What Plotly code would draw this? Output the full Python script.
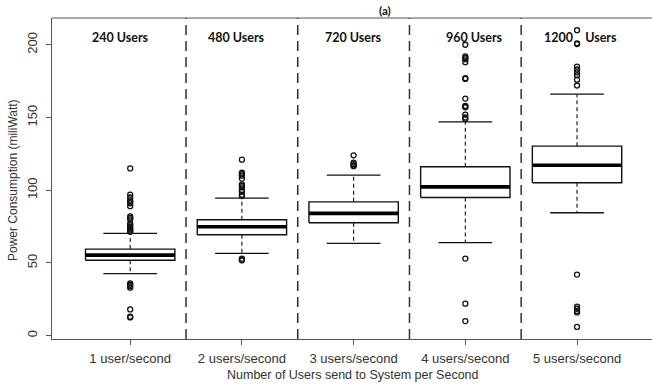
import plotly.graph_objects as go

# ---- data ----
categories = ["1 user/second", "2 users/second", "3 users/second", "4 users/second", "5 users/second"]
group_labels = ["240 Users", "480 Users", "720 Users", "960 Users", "1200\u00a0\u00a0\u00a0 Users"]
q1 = [51.8, 69.4, 77.6, 95.0, 105.1]
median = [55.4, 74.9, 84.1, 102.3, 117.2]
q3 = [59.5, 79.7, 92.0, 116.1, 130.3]
lower_whisker = [42.6, 56.6, 63.5, 63.9, 84.5]
upper_whisker = [70.3, 94.6, 110.4, 147.0, 166.0]
outliers = [
    [115, 97, 95, 93, 92, 91, 89, 82, 81, 80, 77, 76, 75, 74, 73, 72, 71.5, 36, 35, 34, 33, 18, 13, 12.5],
    [121, 112, 111, 110, 108, 104, 103, 102, 100, 99, 97, 96, 53, 52, 51.8],
    [124, 119, 118, 117, 116.5],
    [200, 192, 191, 190, 188, 177, 176.5, 163, 158, 157.5, 157, 152, 150, 149, 53, 22, 10],
    [210, 201, 200.5, 185, 183, 181, 179, 176, 172, 42, 20, 18.5, 17, 16, 6],
]
y_ticks = [0, 50, 100, 150, 200]
separators = [1.5, 2.5, 3.5, 4.5]

positions = list(range(1, len(categories) + 1))
BOX_HALF = 0.4
STAPLE_HALF = 0.24

W, H = 652, 387
ML, MR, MT, MB = 52, 0, 18, 48
PW, PH = W - ML - MR, H - MT - MB

fig = go.Figure()

for i, c in enumerate(positions):
    fig.add_trace(go.Scatter(x=[c, c, None, c, c], y=[q3[i], upper_whisker[i], None, q1[i], lower_whisker[i]],
                             mode="lines", line=dict(color="#111", width=1.1, dash="4px,3px"),
                             hoverinfo="skip", showlegend=False))
    fig.add_trace(go.Scatter(x=[c - STAPLE_HALF, c + STAPLE_HALF, None, c - STAPLE_HALF, c + STAPLE_HALF],
                             y=[upper_whisker[i], upper_whisker[i], None, lower_whisker[i], lower_whisker[i]],
                             mode="lines", line=dict(color="#111", width=1.3),
                             hoverinfo="skip", showlegend=False))
    fig.add_trace(go.Scatter(x=[c - BOX_HALF, c + BOX_HALF, c + BOX_HALF, c - BOX_HALF, c - BOX_HALF],
                             y=[q1[i], q1[i], q3[i], q3[i], q1[i]],
                             mode="lines", fill="toself", fillcolor="white",
                             line=dict(color="#111", width=1.4),
                             hoverinfo="skip", showlegend=False))
    fig.add_trace(go.Scatter(x=[c - BOX_HALF, c + BOX_HALF], y=[median[i], median[i]],
                             mode="lines", line=dict(color="#000", width=3.6),
                             hoverinfo="skip", showlegend=False))
    fig.add_trace(go.Scatter(x=[c] * len(outliers[i]), y=outliers[i], mode="markers",
                             marker=dict(symbol="circle-open", size=5, color="#111", line=dict(width=1.3)),
                             hoverinfo="skip", showlegend=False))

for s in separators:
    fig.add_shape(type="line", x0=s, x1=s, y0=0, y1=1, xref="x", yref="paper",
                  line=dict(color="#333", width=1.5, dash="10px,6px"), layer="below")

fig.add_shape(type="line", x0=0, x1=1, y0=1, y1=1, xref="paper", yref="paper",
              line=dict(color="#555", width=1))

for i, lab in enumerate(group_labels):
    fig.add_annotation(x=positions[i], y=205, xref="x", yref="y", text=f"<b>{lab}</b>",
                       showarrow=False, font=dict(family="Lato", size=12.5, color="#111"),
                       xshift=[-10, -5, 0, 9, 3][i])

def px_x(px):
    return (px - ML) / PW

def px_y(py):
    return (H - MB - py) / PH

fig.add_annotation(x=px_x(385), y=px_y(10), xref="paper", yref="paper", text="<b>(a)</b>",
                   showarrow=False, yanchor="middle",
                   font=dict(family="Lato", size=11.5, color="#111"))
fig.add_annotation(x=px_x(353.5), y=px_y(375), xref="paper", yref="paper",
                   text="Number of Users send to System per Second", showarrow=False,
                   yanchor="middle", font=dict(size=12.5, color="#333"))
fig.add_annotation(x=px_x(13), y=px_y(180), xref="paper", yref="paper",
                   text="Power Consumption (miliWatt)", showarrow=False, textangle=-90,
                   xanchor="center", yanchor="middle", font=dict(size=12, color="#333"))

fig.update_layout(
    width=W, height=H,
    margin=dict(l=ML, r=MR, t=MT, b=MB, autoexpand=False),
    paper_bgcolor="white", plot_bgcolor="white",
    font=dict(family="Liberation Sans, Arial", size=13, color="#333"),
    xaxis=dict(range=[0.3, 1 + (652 - 130) / 111.75], tickvals=positions, ticktext=categories,
               showline=True, linecolor="#555", linewidth=1,
               ticks="outside", ticklen=5, tickcolor="#555", showgrid=False, zeroline=False,
               automargin=False, ticklabelstandoff=2),
    yaxis=dict(range=[-2.3, 218.4], tickvals=y_ticks, ticktext=[str(v) for v in y_ticks],
               tickangle=-90, showline=True, linecolor="#555", linewidth=1,
               ticks="outside", ticklen=5, tickcolor="#555", showgrid=False, zeroline=False,
               automargin=False, ticklabelstandoff=4),
)

fig.write_html("out.html", config={"displayModeBar": False},
               post_script="document.body.style.margin='0';document.body.style.overflow='hidden';")
